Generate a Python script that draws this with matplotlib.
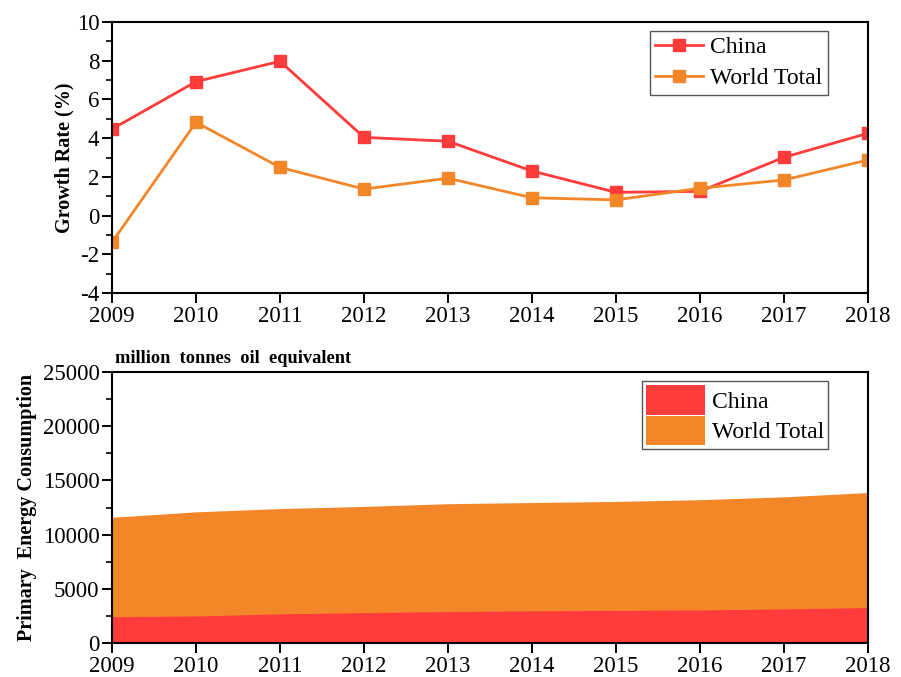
import matplotlib.pyplot as plt
from matplotlib.ticker import MultipleLocator

plt.rcParams['font.family'] = ['Liberation Serif', 'DejaVu Serif']
plt.rcParams['axes.unicode_minus'] = False

years = [2009, 2010, 2011, 2012, 2013, 2014, 2015, 2016, 2017, 2018]

# energy consumption growth rate (%)
china_growth = [4.47, 6.92, 7.97, 4.04, 3.84, 2.30, 1.20, 1.25, 3.01, 4.25]
world_growth = [-1.38, 4.82, 2.49, 1.37, 1.93, 0.92, 0.81, 1.41, 1.84, 2.87]

# primary energy consumption (million tonnes oil equivalent)
china_energy = [2430, 2490, 2690, 2800, 2900, 2970, 3010, 3050, 3140, 3270]
world_energy = [11600, 12100, 12400, 12600, 12850, 12960, 13060, 13220, 13480, 13880]

red = '#FF3B3B'
orange = '#F4862A'

fig = plt.figure(figsize=(9.01, 6.77), dpi=100)
ax1 = fig.add_axes([112 / 901, 1 - 293 / 677, 756 / 901, 271 / 677])
ax2 = fig.add_axes([112 / 901, 1 - 643 / 677, 756 / 901, 271 / 677])


def style_axes(ax):
    for sp in ax.spines.values():
        sp.set_linewidth(1.5)
    ax.tick_params(axis='both', which='major', direction='out', length=7,
                   width=1.4, labelsize=16.5, top=False, right=False, pad=2)
    ax.tick_params(axis='y', which='minor', direction='out', length=4,
                   width=1.2, right=False)
    ax.tick_params(axis='x', which='minor', bottom=False)
    ax.set_xlim(2009, 2018)
    ax.set_xticks(years)


# growth rate lines
ax1.plot(years, china_growth, color=red, lw=2, marker='s', ms=8, label='China')
ax1.plot(years, world_growth, color=orange, lw=2, marker='s', ms=8,
         label='World Total')
ax1.set_ylim(-4, 10)
ax1.yaxis.set_major_locator(MultipleLocator(2))
ax1.yaxis.set_minor_locator(MultipleLocator(1))
style_axes(ax1)
ax1.set_ylabel('Growth Rate (%)', fontsize=14.5, fontweight='bold', labelpad=2)
leg1 = ax1.legend(loc='upper right', bbox_to_anchor=(0.947, 0.967), fontsize=17,
                  fancybox=False, edgecolor='#555555', framealpha=1,
                  handlelength=2.0, handletextpad=0.3, borderpad=0.25,
                  labelspacing=0.4, borderaxespad=0)
leg1.get_frame().set_linewidth(1.0)

# primary energy consumption areas
ax2.fill_between(years, 0, world_energy, color=orange, lw=0, label='World Total')
ax2.fill_between(years, 0, china_energy, color=red, lw=0, label='China')
ax2.set_ylim(0, 25000)
ax2.yaxis.set_major_locator(MultipleLocator(5000))
ax2.yaxis.set_minor_locator(MultipleLocator(2500))
style_axes(ax2)
ax2.set_ylabel('Primary  Energy Consumption', fontsize=14.5, fontweight='bold',
               labelpad=4)
ax2.text(0.004, 1.02, 'million  tonnes  oil  equivalent', transform=ax2.transAxes,
         fontsize=13.2, fontweight='bold', ha='left', va='bottom')
handles, labels = ax2.get_legend_handles_labels()
leg2 = ax2.legend(handles[::-1], labels[::-1], loc='upper right',
                  bbox_to_anchor=(0.947, 0.965), fontsize=17, fancybox=False,
                  edgecolor='#555555', framealpha=1, handlelength=2.5,
                  handleheight=1.55, handletextpad=0.3, borderpad=0.15,
                  labelspacing=0.05, borderaxespad=0)
leg2.get_frame().set_linewidth(1.0)

fig.savefig('out.png', dpi=100)
